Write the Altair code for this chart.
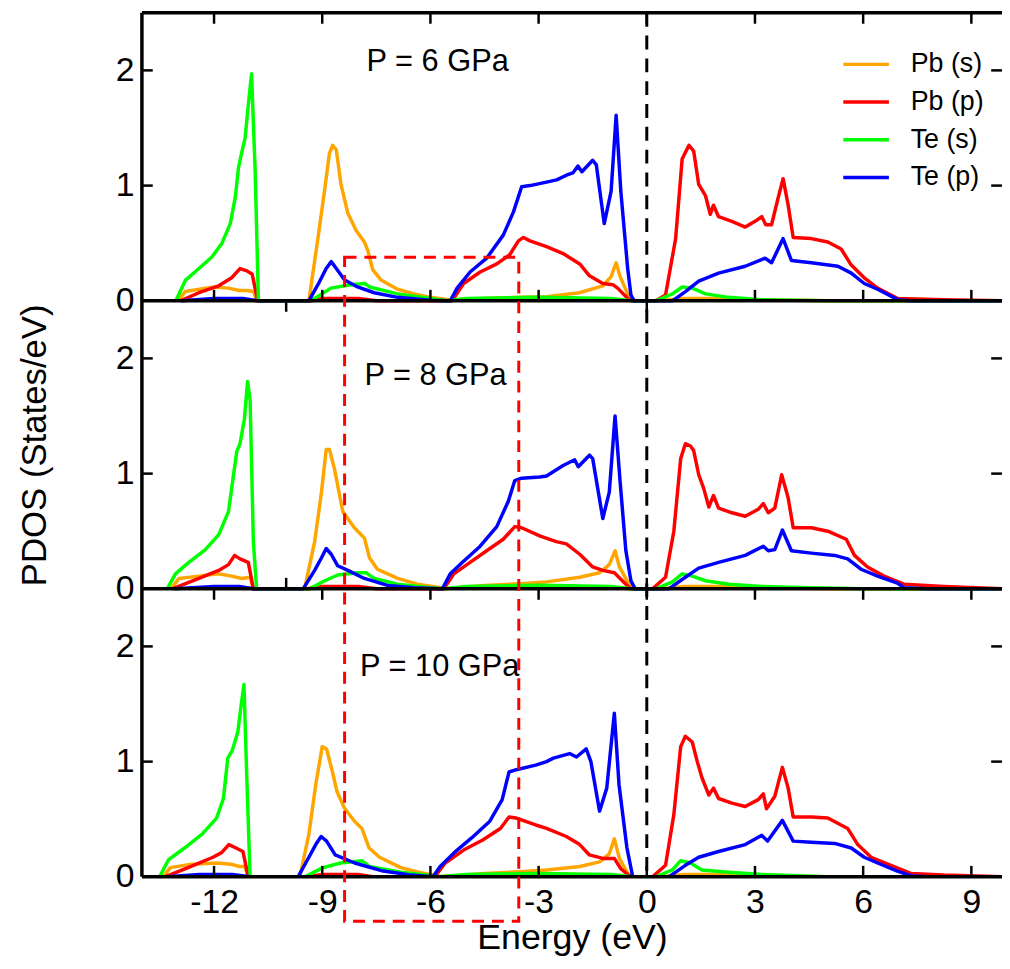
import altair as alt
import pandas as pd

FONT = "Liberation Sans"

SERIES = ["Pb (s)", "Pb (p)", "Te (s)", "Te (p)"]
COLORS = ["#FFA500", "#FF0000", "#00FF00", "#0000FF"]
PANELS = ["P = 6 GPa", "P = 8 GPa", "P = 10 GPa"]

# ---------------- P = 6 GPa ----------------
P6_PBS_E = [-13.0, -12.8, -12.4, -12.0, -11.6, -11.3, -11.1, -10.9, -10.82, -9.37, -9.12, -8.93, -8.80, -8.71, -8.61,
            -8.48, -8.29, -8.06, -7.83, -7.74, -7.60, -7.37, -6.91, -6.45, -6.0, -5.5, -4.5, -3.5, -2.78, -1.87,
            -1.22, -0.99, -0.85, -0.74, -0.53, -0.39, 0.4, 1.0, 2.0, 3.0, 5.0, 9.85]
P6_PBS_D = [0, 0.08, 0.10, 0.12, 0.11, 0.09, 0.09, 0.08, 0, 0, 0.54, 0.97, 1.28, 1.35, 1.31,
            1.01, 0.76, 0.61, 0.51, 0.44, 0.27, 0.18, 0.10, 0.06, 0.03, 0.01, 0.02, 0.03, 0.035, 0.07,
            0.13, 0.21, 0.33, 0.21, 0.06, 0, 0, 0.02, 0.02, 0.01, 0, 0]
P6_PBP_E = [-12.93, -12.42, -11.87, -11.51, -11.28, -11.09, -10.94, -10.79, -9.3, -9.0, -8.0, -7.5, -5.40, -5.08,
            -4.62, -4.16, -3.80, -3.56, -3.42, -3.24, -2.78, -2.32, -1.86, -1.60, -1.22, -0.94, -0.81, -0.49, -0.40,
            0.25, 0.52, 0.80, 0.98, 1.17, 1.30, 1.44, 1.63, 1.76, 1.85, 1.99, 2.36, 2.73, 3.05, 3.19, 3.30, 3.46,
            3.64, 3.78, 3.92, 4.06, 4.56, 5.02, 5.39, 5.67, 6.03, 6.40, 6.96, 8.24, 9.85]
P6_PBP_D = [0, 0.07, 0.13, 0.20, 0.28, 0.26, 0.23, 0, 0, 0.02, 0.02, 0, 0, 0.15,
            0.25, 0.32, 0.40, 0.52, 0.55, 0.52, 0.47, 0.41, 0.32, 0.22, 0.15, 0.14, 0.11, 0.01, 0,
            0, 0.05, 0.54, 1.23, 1.35, 1.30, 1.01, 0.91, 0.75, 0.83, 0.73, 0.69, 0.64, 0.70, 0.73, 0.66, 0.66,
            0.89, 1.06, 0.83, 0.55, 0.54, 0.51, 0.45, 0.31, 0.20, 0.11, 0.02, 0.01, 0]
P6_TES_E = [-13.06, -12.79, -12.42, -12.06, -11.78, -11.55, -11.41, -11.32, -11.23, -11.14, -11.05, -10.96, -10.86,
            -10.77, -9.31, -8.76, -8.21, -7.82, -7.69, -6.91, -6.0, -5.54, -5.0, -3.0, -1.0, -0.4, 0.25, 0.71,
            0.98, 1.26, 1.63, 2.27, 3.19, 5.0, 9.85]
P6_TES_D = [0, 0.18, 0.28, 0.38, 0.50, 0.67, 0.90, 1.16, 1.29, 1.41, 1.70, 1.97, 1.13,
            0, 0, 0.11, 0.14, 0.15, 0.12, 0.06, 0.02, 0, 0.02, 0.03, 0.02, 0, 0, 0.06,
            0.12, 0.11, 0.06, 0.03, 0.01, 0, 0]
P6_TEP_E = [-12.9, -12.0, -11.2, -10.8, -9.37, -9.12, -8.89, -8.75, -8.61, -8.38, -8.02, -7.56, -6.91, -6.0, -5.45,
            -5.26, -4.90, -4.44, -3.98, -3.70, -3.47, -3.24, -2.78, -2.50, -2.23, -2.05, -1.91, -1.80, -1.50, -1.40,
            -1.18, -0.99, -0.85, -0.72, -0.53, -0.44, -0.35, 0.71, 1.07, 1.44, 1.99, 2.73, 3.28, 3.46, 3.78, 4.01,
            4.56, 5.30, 5.67, 6.03, 6.40, 6.96, 7.3, 9.85]
P6_TEP_D = [0, 0.02, 0.02, 0, 0, 0.14, 0.28, 0.34, 0.28, 0.18, 0.12, 0.07, 0.03, 0.005, 0,
            0.11, 0.25, 0.37, 0.57, 0.77, 0.99, 1.00, 1.03, 1.05, 1.09, 1.11, 1.17, 1.12, 1.22, 1.18,
            0.67, 0.95, 1.61, 0.95, 0.28, 0.05, 0, 0, 0.08, 0.17, 0.24, 0.30, 0.37, 0.33, 0.54, 0.35,
            0.33, 0.30, 0.24, 0.15, 0.10, 0.01, 0, 0]

# ---------------- P = 8 GPa ----------------
P8_PBS_E = [-13.2, -12.97, -12.42, -11.87, -11.51, -11.23, -11.0, -10.91, -9.49, -9.21, -9.02, -8.89, -8.80, -8.66,
            -8.43, -8.11, -7.83, -7.69, -7.47, -6.91, -6.36, -5.72, -5.6, -4.5, -3.5, -2.78, -1.86, -1.31, -1.04,
            -0.88, -0.76, -0.53, -0.39, 0.4, 1.0, 2.0, 3.0, 5.0, 9.85]
P8_PBS_D = [0, 0.09, 0.11, 0.13, 0.11, 0.09, 0.10, 0, 0, 0.41, 0.84, 1.21, 1.21, 1.04,
            0.67, 0.53, 0.44, 0.27, 0.17, 0.09, 0.04, 0.01, 0, 0.03, 0.045, 0.06, 0.10, 0.14, 0.21,
            0.33, 0.19, 0.06, 0, 0, 0.02, 0.02, 0.01, 0, 0]
P8_PBP_E = [-13.16, -12.42, -11.87, -11.60, -11.43, -11.28, -11.05, -10.91, -9.4, -9.0, -8.0, -7.5, -5.63, -5.35,
            -4.90, -4.44, -3.98, -3.66, -3.47, -2.97, -2.51, -2.23, -1.86, -1.50, -1.22, -0.90, -0.58, -0.44, 0.16,
            0.52, 0.75, 0.94, 1.07, 1.21, 1.30, 1.44, 1.58, 1.72, 1.85, 1.99, 2.36, 2.73, 3.09, 3.23, 3.37, 3.55,
            3.74, 3.92, 4.06, 4.56, 5.02, 5.53, 5.76, 6.12, 6.58, 7.13, 8.24, 9.85]
P8_PBP_D = [0, 0.09, 0.16, 0.21, 0.29, 0.26, 0.23, 0, 0, 0.02, 0.02, 0, 0, 0.13,
            0.23, 0.33, 0.43, 0.54, 0.53, 0.46, 0.41, 0.39, 0.30, 0.19, 0.16, 0.14, 0.04, 0, 0,
            0.10, 0.50, 1.13, 1.26, 1.24, 1.20, 0.99, 0.87, 0.71, 0.81, 0.70, 0.66, 0.63, 0.69, 0.74, 0.66, 0.70,
            0.99, 0.79, 0.53, 0.53, 0.50, 0.43, 0.29, 0.19, 0.11, 0.04, 0.02, 0]
P8_TES_E = [-13.30, -13.07, -12.70, -12.24, -11.87, -11.60, -11.46, -11.37, -11.28, -11.16, -11.07, -11.0, -10.91,
            -10.82, -9.35, -8.93, -8.57, -8.02, -7.79, -7.56, -6.91, -6.0, -5.63, -5.0, -3.0, -1.0, -0.4, 0.25,
            0.71, 0.98, 1.26, 1.63, 2.27, 3.19, 4.56, 6.0, 9.85]
P8_TES_D = [0, 0.13, 0.23, 0.34, 0.47, 0.67, 0.99, 1.19, 1.26, 1.47, 1.80, 1.64, 0.41,
            0, 0, 0.07, 0.12, 0.14, 0.14, 0.09, 0.04, 0.01, 0, 0.02, 0.03, 0.02, 0, 0,
            0.06, 0.13, 0.11, 0.07, 0.04, 0.02, 0.01, 0, 0]
P8_TEP_E = [-13.1, -12.0, -11.3, -10.9, -9.53, -9.21, -9.02, -8.89, -8.75, -8.57, -8.29, -7.83, -7.19, -6.45, -5.67,
            -5.45, -5.08, -4.62, -4.16, -3.84, -3.66, -3.47, -2.97, -2.78, -2.32, -2.0, -1.9, -1.59, -1.5, -1.22,
            -1.04, -0.88, -0.74, -0.58, -0.44, -0.32, 0.61, 1.07, 1.44, 1.99, 2.73, 3.23, 3.37, 3.55, 3.76, 4.01,
            4.56, 5.21, 5.57, 5.94, 6.40, 6.95, 7.13, 7.8, 9.85]
P8_TEP_D = [0, 0.02, 0.02, 0, 0, 0.16, 0.27, 0.35, 0.30, 0.20, 0.16, 0.09, 0.03, 0.01, 0,
            0.13, 0.24, 0.37, 0.54, 0.76, 0.94, 0.96, 0.97, 0.98, 1.07, 1.12, 1.06, 1.16, 1.13, 0.61,
            0.84, 1.50, 0.93, 0.33, 0.07, 0, 0, 0.10, 0.18, 0.23, 0.29, 0.37, 0.33, 0.34, 0.51, 0.33,
            0.31, 0.29, 0.26, 0.17, 0.11, 0.05, 0.01, 0, 0]

# ---------------- P = 10 GPa ----------------
P10_PBS_E = [-13.41, -13.21, -12.62, -11.93, -11.54, -11.29, -11.15, -11.05, -9.62, -9.37, -9.18, -9.0, -8.88, -8.74,
             -8.59, -8.39, -8.10, -7.90, -7.70, -7.41, -6.82, -6.33, -5.83, -5.7, -4.5, -3.5, -2.78, -1.86, -1.31,
             -1.04, -0.90, -0.76, -0.53, -0.41, 0.4, 1.0, 2.0, 3.0, 5.0, 9.85]
P10_PBS_D = [0, 0.08, 0.11, 0.12, 0.11, 0.09, 0.09, 0, 0, 0.37, 0.80, 1.13, 1.11, 0.94,
             0.74, 0.60, 0.48, 0.42, 0.25, 0.17, 0.08, 0.04, 0.01, 0, 0.03, 0.045, 0.06, 0.09, 0.13,
             0.20, 0.33, 0.16, 0.03, 0, 0, 0.02, 0.02, 0.01, 0, 0]
P10_PBP_E = [-13.36, -12.72, -12.03, -11.79, -11.59, -11.39, -11.20, -11.05, -9.4, -9.0, -8.0, -7.6, -5.88, -5.59,
             -5.04, -4.55, -4.06, -3.82, -3.62, -3.08, -2.78, -2.23, -1.86, -1.59, -1.22, -0.90, -0.72, -0.49, -0.42,
             0.16, 0.52, 0.75, 0.94, 1.07, 1.26, 1.40, 1.53, 1.72, 1.85, 1.99, 2.36, 2.73, 3.09, 3.23, 3.32, 3.55,
             3.76, 3.92, 4.06, 4.56, 5.02, 5.57, 5.85, 6.22, 6.77, 7.32, 8.24, 9.85]
P10_PBP_D = [0, 0.08, 0.17, 0.21, 0.28, 0.25, 0.22, 0, 0, 0.02, 0.02, 0, 0, 0.12,
             0.24, 0.32, 0.42, 0.52, 0.51, 0.45, 0.42, 0.35, 0.28, 0.19, 0.16, 0.16, 0.07, 0.01, 0,
             0, 0.10, 0.54, 1.13, 1.22, 1.17, 1.00, 0.86, 0.71, 0.77, 0.68, 0.64, 0.61, 0.67, 0.72, 0.59, 0.70,
             0.95, 0.77, 0.52, 0.52, 0.51, 0.42, 0.28, 0.17, 0.10, 0.03, 0.015, 0]
P10_TES_E = [-13.51, -13.26, -12.82, -12.33, -11.93, -11.74, -11.62, -11.49, -11.34, -11.24, -11.17, -11.10, -11.0,
             -9.48, -8.98, -8.49, -7.90, -7.70, -6.82, -5.93, -5.8, -5.0, -3.0, -1.0, -0.4, 0.25, 0.71, 0.94,
             1.21, 1.53, 2.27, 3.19, 5.0, 9.85]
P10_TES_D = [0, 0.15, 0.25, 0.37, 0.51, 0.68, 1.03, 1.10, 1.26, 1.51, 1.67, 0.94, 0,
             0, 0.08, 0.12, 0.14, 0.09, 0.04, 0.01, 0, 0.02, 0.03, 0.02, 0, 0, 0.06, 0.14,
             0.12, 0.06, 0.04, 0.02, 0, 0]
P10_TEP_E = [-13.3, -12.4, -11.5, -11.0, -9.67, -9.37, -9.18, -9.03, -8.88, -8.64, -8.10, -7.31, -6.52, -5.93, -5.73,
             -5.34, -4.85, -4.36, -4.01, -3.82, -3.62, -3.08, -2.78, -2.59, -2.14, -1.95, -1.68, -1.55, -1.31, -1.11,
             -0.90, -0.77, -0.55, -0.39, 0.61, 1.07, 1.44, 1.99, 2.73, 3.19, 3.35, 3.76, 4.06, 4.56, 5.21, 5.67,
             6.03, 6.40, 6.95, 7.32, 7.78, 9.85]
P10_TEP_D = [0, 0.02, 0.02, 0, 0, 0.17, 0.28, 0.35, 0.31, 0.19, 0.12, 0.05, 0.015, 0, 0.09,
             0.21, 0.34, 0.48, 0.67, 0.91, 0.93, 0.97, 1.00, 1.03, 1.07, 1.04, 1.11, 1.00, 0.57, 0.77,
             1.42, 0.80, 0.25, 0, 0, 0.10, 0.17, 0.22, 0.28, 0.36, 0.31, 0.49, 0.31, 0.30, 0.29, 0.25,
             0.17, 0.12, 0.05, 0.01, 0, 0]

CURVES = {
    ("P = 6 GPa", "Pb (s)"): (P6_PBS_E, P6_PBS_D),
    ("P = 6 GPa", "Pb (p)"): (P6_PBP_E, P6_PBP_D),
    ("P = 6 GPa", "Te (s)"): (P6_TES_E, P6_TES_D),
    ("P = 6 GPa", "Te (p)"): (P6_TEP_E, P6_TEP_D),
    ("P = 8 GPa", "Pb (s)"): (P8_PBS_E, P8_PBS_D),
    ("P = 8 GPa", "Pb (p)"): (P8_PBP_E, P8_PBP_D),
    ("P = 8 GPa", "Te (s)"): (P8_TES_E, P8_TES_D),
    ("P = 8 GPa", "Te (p)"): (P8_TEP_E, P8_TEP_D),
    ("P = 10 GPa", "Pb (s)"): (P10_PBS_E, P10_PBS_D),
    ("P = 10 GPa", "Pb (p)"): (P10_PBP_E, P10_PBP_D),
    ("P = 10 GPa", "Te (s)"): (P10_TES_E, P10_TES_D),
    ("P = 10 GPa", "Te (p)"): (P10_TEP_E, P10_TEP_D),
}

# panel labels (energy, PDOS inside each panel)
LABEL_E = [-7.77, -7.83, -7.95]
LABEL_D = [2.07, 1.85, 1.82]

# highlighted region (energy range, PDOS extent in top / below bottom panel)
BOX_E = [-8.38, -3.55]
BOX_TOP_D = 0.378
BOX_BOTTOM_D = -0.386

X_TICKS = [-12, -9, -6, -3, 0, 3, 6, 9]
MID_X_TICKS = [-10, 0]
Y_TICKS = [1, 2]

# ---------------- layout constants ----------------
X_MIN, X_MAX = -14.0, 9.85
PANEL_H = 2.5
OFFSETS = [2 * PANEL_H, PANEL_H, 0.0]
TL_Y = 0.095
TL_X = 0.3

rows = []
for p, off in zip(PANELS, OFFSETS):
    for s in SERIES:
        E, D = CURVES[(p, s)]
        for e, d in zip(E, D):
            rows.append({"panel": p, "series": s, "E": e, "y": d + off})
df = pd.DataFrame(rows)

xscale = alt.Scale(domain=[X_MIN, X_MAX], nice=False, zero=False)
yscale = alt.Scale(domain=[0, 3 * PANEL_H], nice=False, zero=False)

xaxis = alt.Axis(values=X_TICKS, labelExpr="'' + datum.value", title="Energy (eV)", ticks=False, domain=False,
                 grid=False, labelFontSize=34, labelPadding=9, titleFontSize=36, titlePadding=1,
                 labelFont=FONT, titleFont=FONT, labelColor="black", titleColor="black",
                 titleFontWeight="normal", labelFlush=False, labelOverlap=False)
ytick_vals = [o + v for o in OFFSETS[::-1] for v in [0] + Y_TICKS]
yaxis = alt.Axis(values=ytick_vals, labelExpr="'' + round(datum.value % 2.5)", title="PDOS (States/eV)",
                 ticks=False, domain=False, grid=False, labelFontSize=34, labelPadding=8,
                 titleFontSize=35, titlePadding=63, labelFont=FONT, titleFont=FONT,
                 labelColor="black", titleColor="black", titleFontWeight="normal", labelOverlap=False,
                 labelFlush=False)

legend = alt.Legend(orient="none", legendX=705, legendY=27, title=None, symbolType="stroke",
                    symbolStrokeWidth=3.5, symbolSize=2116, labelFontSize=27, labelFont=FONT,
                    labelColor="black", labelOffset=20, rowPadding=0, padding=0)

X = lambda f="E:Q": alt.X(f, scale=xscale, axis=xaxis)
Y = lambda f="y:Q": alt.Y(f, scale=yscale, axis=yaxis)

layers = []
for s in SERIES:
    layers.append(
        alt.Chart(df[df.series == s]).mark_line(strokeWidth=3.5, strokeJoin="round", clip=True).encode(
            x=X(), y=Y(),
            color=alt.Color("series:N", scale=alt.Scale(domain=SERIES, range=COLORS), legend=legend),
            detail="panel:N",
        )
    )

# frame lines
hlines = alt.Chart(pd.DataFrame({"y": [0, PANEL_H, 2 * PANEL_H, 3 * PANEL_H]})).mark_rule(
    color="black", strokeWidth=3.5).encode(y=Y())
vline = alt.Chart(pd.DataFrame({"E": [X_MIN]})).mark_rule(color="black", strokeWidth=3.5).encode(x=X())

# inward ticks
trows = []
for v in X_TICKS:
    trows.append({"E": v, "y": 3 * PANEL_H, "y2": 3 * PANEL_H - TL_Y})
    trows.append({"E": v, "y": 2 * PANEL_H, "y2": 2 * PANEL_H + TL_Y})
    trows.append({"E": v, "y": PANEL_H, "y2": PANEL_H - TL_Y})
    trows.append({"E": v, "y": 0, "y2": TL_Y})
for v in MID_X_TICKS:
    trows.append({"E": v, "y": 2 * PANEL_H, "y2": 2 * PANEL_H - TL_Y})
    trows.append({"E": v, "y": PANEL_H, "y2": PANEL_H + TL_Y})
xticks = alt.Chart(pd.DataFrame(trows)).mark_rule(color="black", strokeWidth=2.5).encode(
    x=X(), y=Y(), y2="y2:Q")

yrows = []
for o in OFFSETS:
    for v in Y_TICKS:
        yrows.append({"y": o + v, "E": X_MIN, "E2": X_MIN + TL_X})
        yrows.append({"y": o + v, "E": X_MAX - TL_X, "E2": X_MAX})
yticks = alt.Chart(pd.DataFrame(yrows)).mark_rule(color="black", strokeWidth=2.5).encode(
    x=X(), x2="E2:Q", y=Y())

fermi = alt.Chart(pd.DataFrame({"E": [0]})).mark_rule(color="black", strokeWidth=3, strokeDash=[14, 9]).encode(
    x=X())

box = alt.Chart(pd.DataFrame({"E": [BOX_E[0]], "E2": [BOX_E[1]],
                              "y": [BOX_BOTTOM_D], "y2": [2 * PANEL_H + BOX_TOP_D]})).mark_rect(
    fillOpacity=0, stroke="red", strokeWidth=3, strokeDash=[12, 8], clip=False).encode(
    x=X(), x2="E2:Q", y=Y(), y2="y2:Q")

ann = pd.DataFrame({"label": PANELS, "E": LABEL_E, "y": [d + o for d, o in zip(LABEL_D, OFFSETS)]})
texts = alt.Chart(ann).mark_text(align="left", baseline="middle", fontSize=31, font=FONT, color="black").encode(
    x=X(), y=Y(), text="label:N")

chart = alt.layer(*layers, hlines, vline, xticks, yticks, fermi, box, texts).properties(
    width=867, height=871,
    autosize=alt.AutoSizeParams(type="none"),
    padding={"left": 135, "top": 1, "right": 0, "bottom": 78},
).configure_view(stroke=None).configure(background="white")

chart.save("out.html", embed_options={"renderer": "svg", "actions": False})
